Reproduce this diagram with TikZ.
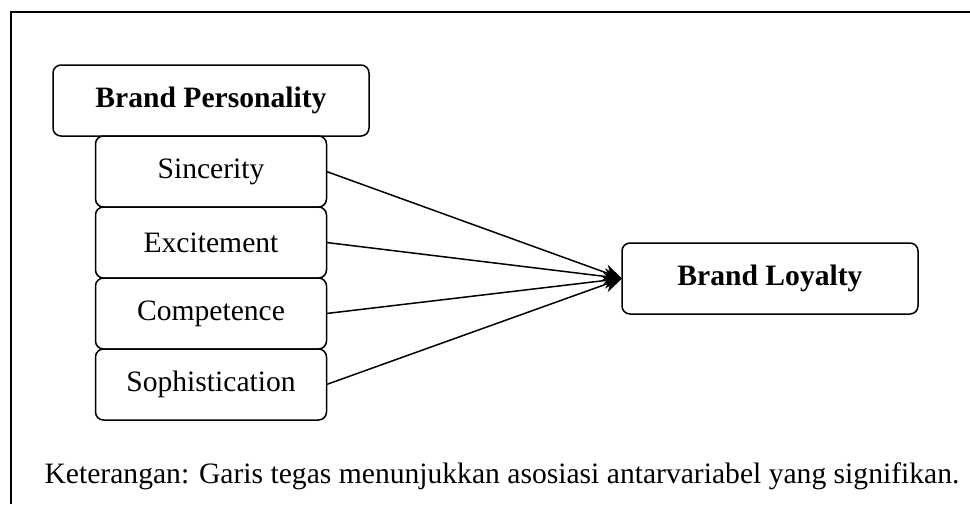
\documentclass[tikz,border=0pt]{standalone}
\usepackage{fontspec}
\setmainfont{Liberation Serif}
\usetikzlibrary{arrows.meta,positioning}

\begin{document}
\begin{tikzpicture}[->,>={Stealth[length=9pt,width=8pt]},line width=0.75pt,
                    x=0.5pt,y=-0.5pt,font=\fontsize{14.8}{17}\selectfont]
  \tikzstyle{box}=[draw,rounded corners=4pt,minimum height=35.5pt,inner sep=0pt,outer sep=0pt]
  \tikzstyle{dim}=[box,minimum width=115.5pt]
  \tikzstyle{head}=[box,font=\fontsize{14.8}{17}\selectfont\bfseries]

  \useasboundingbox (0,0) rectangle (970,504);
  \draw[-,line width=1pt] (11,504) -- (11,12) -- (970,12);

  \node[head,minimum width=158pt] (BP) at (211,100.5) {Brand Personality};
  \node[dim] (Sin) [below=0pt of BP]  {Sincerity};
  \node[dim] (Exc) [below=0pt of Sin] {Excitement};
  \node[dim] (Com) [below=0pt of Exc] {Competence};
  \node[dim] (Sop) [below=0pt of Com] {Sophistication};
  \node[head,minimum width=148pt] (BL) at (770,278.5) {Brand Loyalty};

  \node (note) at (502,476) {Keterangan: Garis tegas menunjukkan asosiasi antarvariabel yang signifikan.};

  \path (Sin.east) edge (BL.west)
        (Exc.east) edge (BL.west)
        (Com.east) edge (BL.west)
        (Sop.east) edge (BL.west);

\end{tikzpicture}
\end{document}
